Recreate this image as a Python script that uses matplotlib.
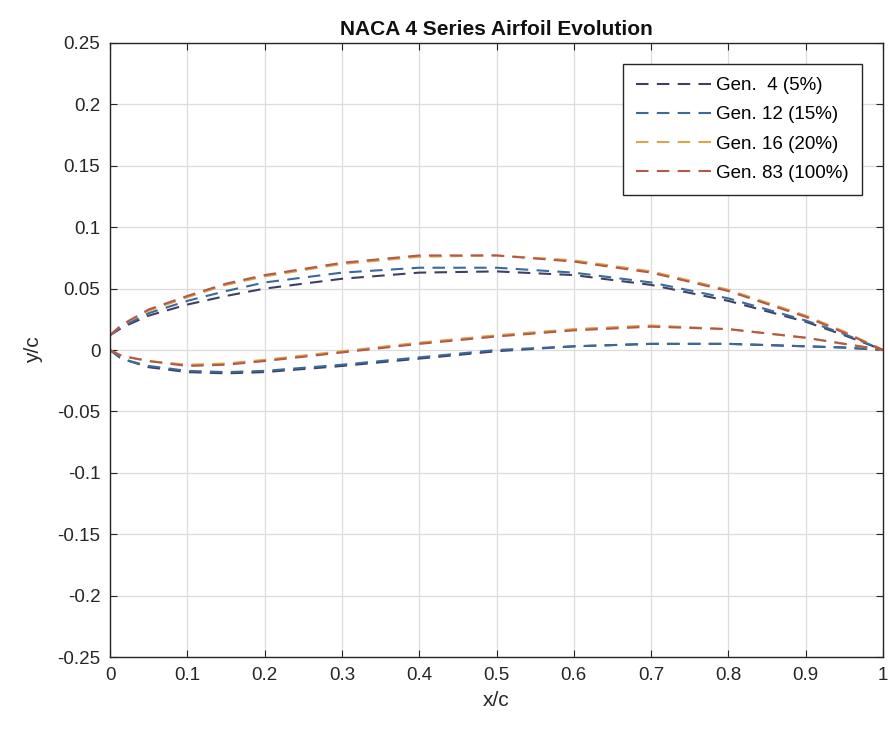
import matplotlib
matplotlib.use("Agg")
import matplotlib.pyplot as plt
import numpy as np

plt.rcParams['font.family'] = ['Liberation Sans', 'DejaVu Sans']

# sample chord stations (x/c)
x_pts = [0.0, 0.0125, 0.025, 0.05, 0.1, 0.15, 0.2, 0.3, 0.4, 0.5, 0.6, 0.7, 0.8, 0.9, 0.95, 1.0]

labels = ["Gen.  4 (5%)", "Gen. 12 (15%)", "Gen. 16 (20%)", "Gen. 83 (100%)"]

upper_gen4 = [0.012, 0.017, 0.021, 0.028, 0.037, 0.044, 0.050, 0.058, 0.063, 0.064, 0.061, 0.053, 0.040, 0.023, 0.012, 0.0]
lower_gen4 = [0.0, -0.006, -0.009, -0.014, -0.018, -0.019, -0.018, -0.013, -0.007, -0.001, 0.003, 0.005, 0.005, 0.003, 0.002, 0.0]

upper_gen12 = [0.012, 0.018, 0.022, 0.030, 0.040, 0.048, 0.055, 0.063, 0.067, 0.067, 0.063, 0.055, 0.042, 0.024, 0.013, 0.0]
lower_gen12 = [0.0, -0.006, -0.009, -0.013, -0.017, -0.018, -0.017, -0.012, -0.006, 0.000, 0.003, 0.005, 0.005, 0.003, 0.002, 0.0]

upper_gen16 = [0.012, 0.019, 0.024, 0.032, 0.043, 0.053, 0.060, 0.070, 0.076, 0.077, 0.073, 0.064, 0.049, 0.028, 0.015, 0.0]
lower_gen16 = [0.0, -0.004, -0.006, -0.009, -0.012, -0.011, -0.008, -0.001, 0.006, 0.012, 0.017, 0.020, 0.017, 0.010, 0.005, 0.0]

upper_gen83 = [0.012, 0.019, 0.024, 0.033, 0.044, 0.054, 0.061, 0.071, 0.077, 0.077, 0.072, 0.063, 0.048, 0.027, 0.014, 0.0]
lower_gen83 = [0.0, -0.004, -0.006, -0.009, -0.013, -0.012, -0.009, -0.002, 0.005, 0.011, 0.016, 0.019, 0.017, 0.010, 0.005, 0.0]

uppers = [upper_gen4, upper_gen12, upper_gen16, upper_gen83]
lowers = [lower_gen4, lower_gen12, lower_gen16, lower_gen83]
colors = ["#3e3f63", "#3a6a9a", "#d9a548", "#b4584a"]

fig = plt.figure(figsize=(8.88, 7.31), dpi=100)
ax = fig.add_axes([0.1239, 0.1012, 0.8705, 0.8400])

for up, lo, c, lab in zip(uppers, lowers, colors, labels):
    ax.plot(x_pts, up, linestyle=(0, (6, 4)), color=c, lw=1.5, label=lab)
    ax.plot(x_pts, lo, linestyle=(0, (6, 4)), color=c, lw=1.5)

ax.set_xlim(0, 1)
ax.set_ylim(-0.25, 0.25)
xt = np.round(np.arange(0, 1.01, 0.1), 1)
yt = np.round(np.arange(-0.25, 0.251, 0.05), 2)
ax.set_xticks(xt)
ax.set_xticklabels(["0" if v == 0 else ("1" if v == 1 else f"{v:g}") for v in xt])
ax.set_yticks(yt)
ax.set_yticklabels(["0" if abs(v) < 1e-9 else f"{v:g}" for v in yt])
ax.tick_params(direction='in', top=True, right=True, labelsize=13.5, length=5, colors='#262626', pad=7)
ax.grid(True, color='#dcdcdc', lw=0.9)
ax.set_axisbelow(True)
for s in ax.spines.values():
    s.set_color('#262626')
    s.set_linewidth(1.0)

ax.set_xlabel("x/c", fontsize=15, color='#262626', labelpad=5)
ax.set_ylabel("y/c", fontsize=15, color='#262626', labelpad=10)
ax.set_title("NACA 4 Series Airfoil Evolution", fontsize=15, fontweight='bold', color='#111111', pad=6)

leg = ax.legend(loc='upper right', bbox_to_anchor=(0.973, 0.966), borderaxespad=0, fontsize=13.5,
                frameon=True, fancybox=False, edgecolor='#262626', framealpha=1, handlelength=4.0,
                borderpad=0.7, labelspacing=0.65, handletextpad=0.3)
leg.get_frame().set_linewidth(1.0)

fig.savefig("out.png", dpi=100)
